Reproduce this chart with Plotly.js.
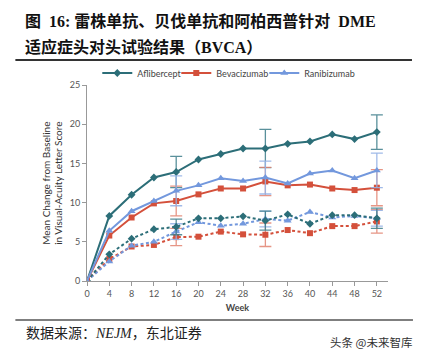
<!DOCTYPE html>
<html>
<head>
<meta charset="utf-8">
<script src="https://cdn.plot.ly/plotly-3.0.1.min.js"></script>
<style>html,body{margin:0;padding:0;background:#fff;}#chart{width:425px;height:356px;}</style>
</head>
<body>
<div id="chart"></div>
<script>
// ---- data ----
var weeks = [0, 4, 8, 12, 16, 20, 24, 28, 32, 36, 40, 44, 48, 52];
var afliberceptAll   = [0, 8.3, 11.0, 13.2, 13.9, 15.5, 16.2, 16.9, 16.9, 17.5, 17.8, 18.7, 18.1, 19.0];
var bevacizumabAll   = [0, 5.8, 8.1, 9.9, 10.2, 11.05, 11.8, 11.8, 12.7, 12.2, 12.3, 11.8, 11.6, 11.9];
var ranibizumabAll   = [0, 6.4, 8.9, 10.2, 11.5, 12.2, 13.1, 12.75, 13.2, 12.45, 13.7, 14.1, 13.1, 14.1];
var afliberceptSub   = [0, 3.4, 5.4, 6.6, 6.9, 8.0, 8.0, 8.25, 7.7, 8.5, 7.3, 8.4, 8.4, 8.0];
var bevacizumabSub   = [0, 2.8, 4.4, 4.6, 5.6, 5.65, 6.3, 5.95, 5.9, 6.5, 6.1, 7.0, 7.0, 7.6];
var ranibizumabSub   = [0, 2.5, 4.5, 5.0, 6.3, 7.5, 7.05, 7.3, 7.9, 7.7, 8.8, 8.1, 8.3, 8.0];
var errorWeeks       = [16, 32, 52];
var afliberceptAllErr = [2.0, 2.45, 2.2];
var bevacizumabAllErr = [1.9, 1.8, 2.3];
var ranibizumabAllErr = [1.9, 2.1, 2.2];
var afliberceptSubErr = [1.0, 1.2, 1.3];
var bevacizumabSubErr = [1.1, 1.5, 1.5];
var ranibizumabSubErr = [1.0, 1.0, 1.0];
var seriesNames = ['Aflibercept', 'Bevacizumab', 'Ranibizumab'];
var yTicks = [0, 5, 10, 15, 20, 25];
var yTitleLines = ['Mean Change from Baseline', 'in Visual-Acuity Letter Score'];

// ---- styles ----
var colTeal = '#2c6e78', colRed = '#d4503b', colBlue = '#7398dd';
var errTeal = 'rgba(60,125,138,0.85)', errRed = 'rgba(226,130,112,0.85)', errBlue = 'rgba(150,178,230,0.9)';

function errArray(errs) {
  return weeks.map(function (w) {
    var i = errorWeeks.indexOf(w);
    return i >= 0 ? errs[i] : NaN;
  });
}

function trace(y, errs, name, color, ecolor, symbol, msize, dashed, legend) {
  return {
    x: weeks, y: y, type: 'scatter', mode: 'lines+markers', name: name,
    showlegend: legend,
    line: {color: color, width: 2, dash: dashed ? '3px,2.5px' : 'solid'},
    marker: {color: color, symbol: symbol, size: msize},
    error_y: {type: 'data', array: errArray(errs), visible: true, color: ecolor, thickness: 1.3, width: 6},
    hoverinfo: 'x+y'
  };
}

var data = [
  trace(bevacizumabSub, bevacizumabSubErr, seriesNames[1], colRed, errRed, 'square', 6, true, false),
  trace(ranibizumabSub, ranibizumabSubErr, seriesNames[2], colBlue, errBlue, 'triangle-up', 7, true, false),
  trace(afliberceptSub, afliberceptSubErr, seriesNames[0], colTeal, errTeal, 'diamond', 6, true, false),
  trace(afliberceptAll, afliberceptAllErr, seriesNames[0], colTeal, errTeal, 'diamond', 6, false, true),
  trace(bevacizumabAll, bevacizumabAllErr, seriesNames[1], colRed, errRed, 'square', 6, false, true),
  trace(ranibizumabAll, ranibizumabAllErr, seriesNames[2], colBlue, errBlue, 'triangle-up', 7, false, true)
];
data[3].legendrank = 1; data[4].legendrank = 2; data[5].legendrank = 3;
data[3].legendwidth = 34; data[4].legendwidth = 43; data[5].legendwidth = 55;

var L = 86.7, R = 388, T = 85, B = 281, W = 425, H = 356;
function px(x) { return (x - L) / (R - L); }
function py(y) { return (B - y) / (B - T); }

var sansFont = 'Lato, "Open Sans", "Noto Sans", sans-serif';
var titleFont = '"Liberation Serif", "Noto Sans CJK SC", serif';

var layout = {
  width: W, height: H,
  margin: {l: L, r: W - R, t: T, b: H - B, pad: 0},
  paper_bgcolor: '#fff', plot_bgcolor: '#fff',
  font: {family: sansFont, size: 9, color: '#444'},
  showlegend: true,
  legend: {orientation: 'h', x: px(97), xanchor: 'left', y: py(73), yanchor: 'middle',
           font: {family: sansFont, size: 9, color: '#444'}, itemwidth: 30, traceorder: 'normal',
           bgcolor: 'rgba(0,0,0,0)', borderwidth: 0},
  xaxis: {
    range: [0, 54], tickvals: weeks, ticktext: weeks.map(String), showgrid: false, zeroline: false,
    showline: true, linecolor: '#999', linewidth: 1, ticks: 'outside', ticklen: 4, tickcolor: '#999',
    tickfont: {family: sansFont, size: 9, color: '#555'},
    title: {text: '<b>Week</b>', font: {family: sansFont, size: 9, color: '#444'}, standoff: 6}
  },
  yaxis: {
    range: [0, 25], tickvals: yTicks, showgrid: false, zeroline: false,
    showline: true, linecolor: '#999', linewidth: 1, ticks: 'outside', ticklen: 4, tickcolor: '#999',
    tickfont: {family: sansFont, size: 9, color: '#555'}
  },
  shapes: [
    {type: 'line', xref: 'paper', yref: 'paper', x0: px(15), x1: px(412), y0: py(60), y1: py(60), line: {color: '#333', width: 2}},
    {type: 'line', xref: 'paper', yref: 'paper', x0: px(15), x1: px(413), y0: py(320), y1: py(320), line: {color: '#555', width: 1.5}}
  ],
  annotations: [
    {xref: 'paper', yref: 'paper', x: px(45), y: py(183.5), xanchor: 'center', yanchor: 'middle', showarrow: false,
     textangle: -90, text: yTitleLines[0], font: {family: sansFont, size: 10, color: '#333'}},
    {xref: 'paper', yref: 'paper', x: px(57), y: py(183.5), xanchor: 'center', yanchor: 'middle', showarrow: false,
     textangle: -90, text: yTitleLines[1], font: {family: sansFont, size: 10, color: '#333'}},
    {xref: 'paper', yref: 'paper', x: px(23), y: py(21.5), xanchor: 'left', yanchor: 'middle', showarrow: false,
     text: '<b>图&nbsp;&nbsp;16:&nbsp;雷株单抗、贝伐单抗和阿柏西普针对&nbsp;&nbsp;DME</b>', font: {family: titleFont, size: 16, color: '#111'}},
    {xref: 'paper', yref: 'paper', x: px(23), y: py(46.5), xanchor: 'left', yanchor: 'middle', showarrow: false,
     text: '<b>适应症头对头试验结果（BVCA）</b>', font: {family: titleFont, size: 16, color: '#111'}},
    {xref: 'paper', yref: 'paper', x: px(24), y: py(333), xanchor: 'left', yanchor: 'middle', showarrow: false,
     text: '数据来源：<i>NEJM</i>，东北证券', font: {family: titleFont, size: 14, color: '#222'}},
    {xref: 'paper', yref: 'paper', x: px(414), y: py(342), xanchor: 'right', yanchor: 'middle', showarrow: false,
     text: '头条 @未来智库', font: {family: '"Noto Sans CJK SC", sans-serif', size: 11.5, color: '#333'}}
  ]
};

Plotly.newPlot('chart', data, layout, {displayModeBar: false, staticPlot: true});
</script>
</body>
</html>
